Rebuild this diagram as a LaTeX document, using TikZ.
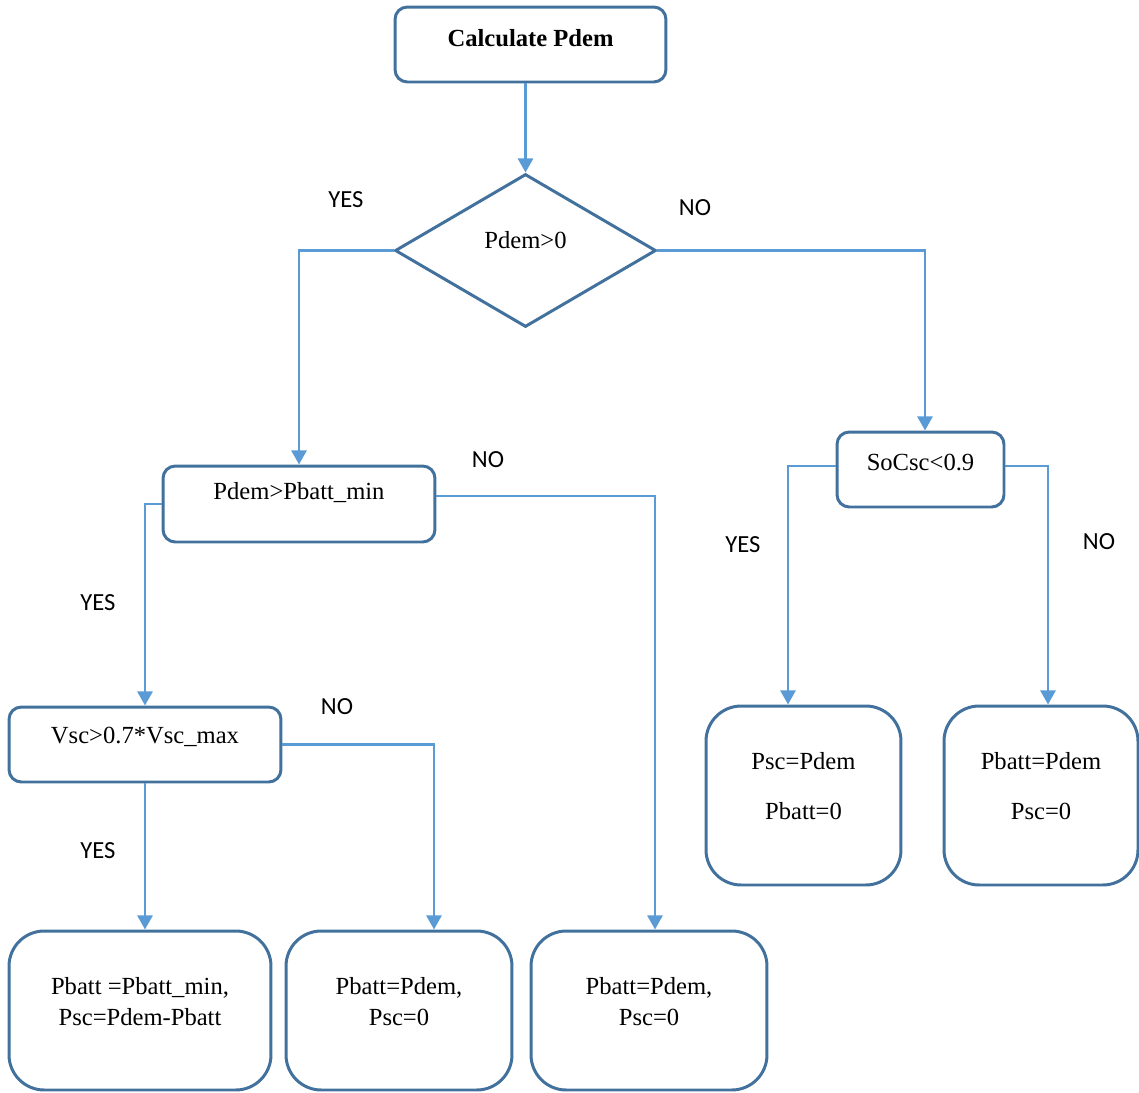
\documentclass[tikz,border=0pt]{standalone}
\usepackage{fontspec}
\setmainfont{Liberation Serif}
\newfontfamily\lblfont{Carlito}
\usetikzlibrary{shapes.geometric,arrows.meta}
\definecolor{boxblue}{HTML}{41719C}
\definecolor{arrblue}{HTML}{5B9BD5}
\begin{document}
\begin{tikzpicture}[x=0.02cm, y=-0.02cm,
  every label/.style = {font=\fontsize{14}{18}\selectfont, align=center},
  box/.style = {draw=boxblue, line width=1.7pt, rounded corners=7pt, inner sep=0pt},
  outbox/.style = {box, rounded corners=20pt, minimum height=3.18cm},
  dec/.style = {draw=boxblue, line width=1.7pt, diamond, inner sep=0pt,
    minimum width=5.22cm, minimum height=3.06cm},
  arr/.style = {draw=arrblue, line width=1.6pt, -{Triangle[length=8pt,width=8.5pt]}},
  lbl/.style = {font=\lblfont\fontsize{14}{16}\selectfont}]
\useasboundingbox (0,0) rectangle (1139,1092);
			\node[box, minimum width=5.42cm, minimum height=1.5cm,
			  label={[yshift=0.13cm, font=\bfseries\fontsize{14}{17}\selectfont]center:Calculate Pdem}] (calc) at (530.5,44.5) {};
			\node[dec, label={[yshift=0.2cm]center:Pdem>0}] (pdem) at (525.5,250.5) {};
			\node[box, minimum width=5.44cm, minimum height=1.52cm,
			  label={[yshift=0.22cm]center:Pdem>Pbatt\_min}] (pmin) at (299,504) {};
			\node[box, minimum width=5.44cm, minimum height=1.5cm,
			  label={[yshift=0.16cm]center:Vsc>0.7*Vsc\_max}] (vsc) at (145,744.5) {};
			\node[box, minimum width=3.34cm, minimum height=1.5cm,
			  label={[yshift=0.14cm]center:SoCsc<0.9}] (soc) at (920.5,469.5) {};
			\node[outbox, minimum width=5.24cm,
			  label={[yshift=0.18cm]center:Pbatt =Pbatt\_min,\\Psc=Pdem-Pbatt}] (out1) at (140,1010.5) {};
			\node[outbox, minimum width=4.52cm,
			  label={[yshift=0.18cm]center:Pbatt=Pdem,\\Psc=0}] (out2) at (399,1010.5) {};
			\node[outbox, minimum width=4.72cm,
			  label={[yshift=0.18cm]center:Pbatt=Pdem,\\Psc=0}] (out3) at (649,1010.5) {};
			\node[outbox, minimum width=3.9cm, minimum height=3.58cm,
			  label={[yshift=0.19cm]center:Psc=Pdem\\[10pt]Pbatt=0}] (out4) at (803.5,795.5) {};
			\node[outbox, minimum width=3.88cm, minimum height=3.58cm,
			  label={[yshift=0.19cm]center:Pbatt=Pdem\\[10pt]Psc=0}] (out5) at (1041,795.5) {};
			\node[lbl] (yes1) at (346,200) {YES};
			\node[lbl] (no1) at (695,208) {NO};
			\node[lbl] (no2) at (488,460) {NO};
			\node[lbl] (yes2) at (98,603) {YES};
			\node[lbl] (no3) at (337,707) {NO};
			\node[lbl] (yes3) at (98,851) {YES};
			\node[lbl] (yes4) at (743,545) {YES};
			\node[lbl] (no4) at (1099,542) {NO};
			\draw[arr] (calc.south -| pdem.north) -- (pdem.north);
			\draw[arr] (pdem.west) -| (pmin.north);
			\draw[arr] (pdem.east) -| ([xshift=0.09cm]soc.north);
			\draw[arr] (pmin.west) -| (vsc.north);
			\draw[arr] ([yshift=0.16cm]pmin.east) -| ([xshift=0.12cm]out3.north);
			\draw[arr] (vsc.east) -| ([xshift=0.7cm]out2.north);
			\draw[arr] (vsc.south) -- (vsc.south |- out1.north);
			\draw[arr] ([yshift=0.07cm]soc.west) -| ([xshift=-0.31cm]out4.north);
			\draw[arr] ([yshift=0.07cm]soc.east) -| ([xshift=0.14cm]out5.north);
		\end{tikzpicture}
\end{document}
